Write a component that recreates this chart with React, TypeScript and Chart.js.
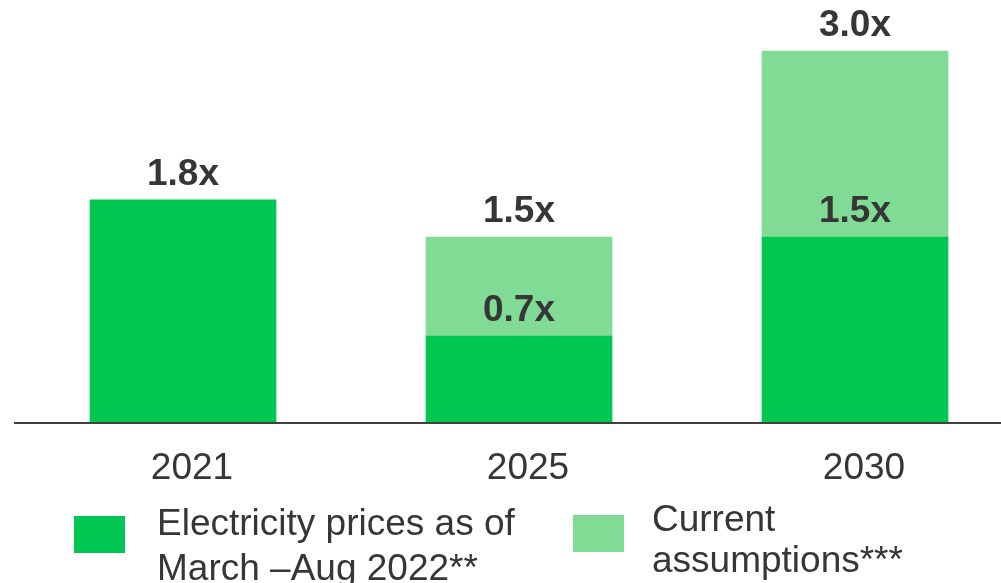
import React, { useEffect, useRef } from "react";
import { Chart, registerables } from "chart.js";

Chart.register(...registerables);

const categories = ["2021", "2025", "2030"];
const darkValues = [1.8, 0.7, 1.5];
const lightValues: (number | null)[] = [null, 0.8, 1.5];
const legendDark = ["Electricity prices as of", "March \u2013Aug 2022**"];
const legendLight = ["Current", "assumptions***"];

const DARK = "#00C652";
const LIGHT = "#80DC94";
const TEXT = "#363636";
const FONT = "'Liberation Sans', Arial, sans-serif";

const fmt = (v: number) => `${v.toFixed(1)}x`;

const labelPlugin = {
  id: "barLabels",
  afterDatasetsDraw(chart: any) {
    const { ctx, scales } = chart;
    const xs = scales.x;
    const ys = scales.y;
    const gap = 15;
    ctx.save();
    ctx.font = `bold 37px ${FONT}`;
    ctx.fillStyle = TEXT;
    ctx.textAlign = "center";
    ctx.textBaseline = "alphabetic";
    categories.forEach((_, i) => {
      const x = xs.getPixelForValue(i);
      const d = darkValues[i];
      const l = lightValues[i];
      const total = d + (l ?? 0);
      ctx.fillText(fmt(total), x, ys.getPixelForValue(total) - gap);
      if (l != null) {
        ctx.fillText(fmt(d), x, ys.getPixelForValue(d) - gap);
      }
    });
    ctx.restore();
  },
};

export default function App() {
  const ref = useRef<HTMLCanvasElement>(null);

  useEffect(() => {
    if (!ref.current) return;
    const chart = new Chart(ref.current, {
      type: "bar",
      data: {
        datasets: [
          {
            label: legendDark.join(" "),
            data: darkValues.map((v, i) => ({ x: i, y: v })),
            backgroundColor: DARK,
            barThickness: 186,
          },
          {
            label: legendLight.join(" "),
            data: lightValues.map((v, i) => ({ x: i, y: v as any })),
            backgroundColor: LIGHT,
            barThickness: 186,
          },
        ],
      },
      options: {
        responsive: false,
        animation: false,
        events: [],
        layout: { padding: { left: 15, right: 0, top: 0, bottom: 0 } },
        plugins: {
          legend: { display: false },
          tooltip: { enabled: false },
        },
        scales: {
          x: {
            type: "linear",
            stacked: true,
            offset: false,
            min: -0.5,
            max: 2.4345,
            grid: { display: false, drawTicks: false },
            border: { display: true, color: "#404040", width: 2, z: 1 },
            afterBuildTicks: (axis: any) => {
              axis.ticks = categories.map((_, i) => ({ value: i }));
            },
            afterFit: (axis: any) => {
              axis.height = 160;
            },
            ticks: {
              autoSkip: false,
              maxRotation: 0,
              padding: 24,
              labelOffset: 9,
              color: TEXT,
              font: { family: FONT, size: 37 },
              callback: (v: any) => categories[Number(v)] ?? "",
            },
          },
          y: {
            stacked: true,
            display: false,
            min: 0,
            max: 3.411,
          },
        },
      },
      plugins: [labelPlugin],
    });
    return () => chart.destroy();
  }, []);

  const sq = (left: number, top: number, color: string) => (
    <div
      style={{
        position: "absolute",
        left,
        top,
        width: 51,
        height: 37,
        background: color,
      }}
    />
  );

  return (
    <div
      style={{
        position: "absolute",
        left: 0,
        top: 0,
        width: 1001,
        height: 583,
        overflow: "hidden",
        background: "#fff",
      }}
    >
      <canvas
        ref={ref}
        width={1001}
        height={583}
        style={{ position: "absolute", left: 0, top: 0, display: "block" }}
      />
      {sq(74, 516, DARK)}
      {sq(573, 515, LIGHT)}
      <div
        style={{
          position: "absolute",
          left: 157,
          top: 500,
          font: `37px/45px ${FONT}`,
          color: TEXT,
          whiteSpace: "nowrap",
        }}
      >
        {legendDark.map((t) => (
          <div key={t}>{t}</div>
        ))}
      </div>
      <div
        style={{
          position: "absolute",
          left: 652,
          top: 498,
          font: `37px/41px ${FONT}`,
          color: TEXT,
          whiteSpace: "nowrap",
        }}
      >
        {legendLight.map((t) => (
          <div key={t}>{t}</div>
        ))}
      </div>
    </div>
  );
}
